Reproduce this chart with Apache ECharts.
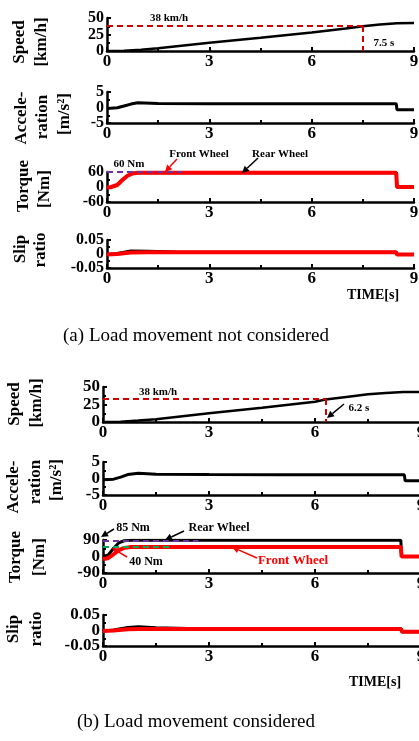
<!DOCTYPE html>
<html>
<head>
<meta charset="utf-8">
<script src="https://cdn.jsdelivr.net/npm/echarts@6/dist/echarts.min.js"></script>
<style>
  html, body { margin: 0; padding: 0; background: #fff; }
  #chart { width: 419px; height: 741px; }
</style>
</head>
<body>
<div id="chart"></div>
<script>
// ---- data ----
// (a) load movement not considered
const speedTimeA = [0, 0.5, 1, 1.5, 3, 4.5, 6, 7, 7.5, 8, 8.5, 9]
const speedA = [0, 0.5, 2, 4, 12.5, 20, 28, 34, 37.5, 40, 42, 42.5]
const accelTimeA = [0, 0.3, 0.5, 0.7, 0.9, 1.5, 3, 5, 7, 8.48, 8.5, 9]
const accelA = [-0.3, -0.1, 0.5, 1.1, 1.5, 1.3, 1.2, 1.2, 1.2, 1.2, -0.7, -0.7]
const torqueTimeA = [0, 0.1, 0.3, 0.45, 0.6, 0.75, 0.9, 1.2, 5, 8.48, 8.5, 9]
const torqueFrontA = [-2, -1, 8, 28, 45, 54, 57, 57, 57, 57, 0, 0]
const torqueRearA = [-2, -1, 8, 28, 45, 54, 57, 57, 57, 57, 0, 0]
const slipTimeA = [0, 0.3, 0.7, 1.2, 2, 3, 8.48, 8.5, 9]
const slipFrontA = [-0.002, 0, 0.005, 0.006, 0.006, 0.006, 0.006, -0.002, -0.002]
const slipRearA = [-0.002, 0.002, 0.011, 0.01, 0.007, 0.006, 0.006, -0.002, -0.002]
const refSpeedA = 38
const refTimeA = 7.5
const refTorqueA = 60
const refTorqueEndA = 2.2

// (b) load movement considered
const speedTimeB = [0, 0.5, 1, 1.5, 3, 4.5, 6, 6.3, 7, 7.5, 8, 8.5, 9]
const speedB = [0, 0.5, 2, 4, 12.5, 20.5, 29, 32, 36.5, 39.5, 41.5, 43, 43]
const accelTimeB = [0, 0.3, 0.5, 0.7, 1, 1.5, 3, 5, 7, 8.53, 8.55, 9]
const accelB = [-0.4, -0.2, 0.4, 1.2, 1.6, 1.3, 1.2, 1.1, 1.1, 1.1, -0.7, -0.7]
const torqueTimeB = [0, 0.15, 0.3, 0.45, 0.6, 0.8, 1.2, 5, 8.43, 8.45, 9]
const torqueFrontB = [-15, -8, 12, 35, 47, 52, 52, 52, 52, 0, 0]
const torqueRearB = [0, 8, 45, 75, 86, 88, 88, 88, 88, 0, 0]
const slipTimeB = [0, 0.3, 0.7, 1, 1.5, 3, 8.44, 8.46, 9]
const slipFrontB = [-0.002, 0, 0.004, 0.005, 0.005, 0.005, 0.005, -0.004, -0.004]
const slipRearB = [-0.002, 0.002, 0.01, 0.012, 0.009, 0.005, 0.005, -0.004, -0.004]
const refSpeedB = 33
const refTimeB = 6.3
const refTorqueRearB = 85
const refTorqueRearEndB = 2.7
const refTorqueFrontB = 55
const refTorqueFrontEndB = 1.95

const xTicks = { min: 0, max: 9, interval: 3 }

const FONT = "'Liberation Serif', 'DejaVu Serif', serif"

function zip(t, v) {
  return t.map((x, i) => [x, v[i]])
}

// fixed plot boxes; panel (b) runs past the right edge like the scan does
const grids = [
  { left: 107, width: 307, top: 18, height: 33 },
  { left: 107, width: 307, top: 92, height: 31 },
  { left: 107, width: 307, top: 172, height: 30 },
  { left: 107, width: 307, top: 240, height: 28 },
  { left: 103, width: 318, top: 387, height: 35 },
  { left: 103, width: 318, top: 462, height: 33 },
  { left: 103, width: 318, top: 540, height: 33 },
  { left: 103, width: 318, top: 615, height: 31 }
].map(g => Object.assign(g, { containLabel: false, outerBoundsMode: 'none' }))

const yDefs = [
  { min: 0, max: 50, interval: 25, size: 16 },
  { min: -5, max: 5, interval: 5, size: 16 },
  { min: -60, max: 60, interval: 60, size: 16 },
  { min: -0.05, max: 0.05, interval: 0.05, size: 16 },
  { min: 0, max: 50, interval: 25, size: 17 },
  { min: -5, max: 5, interval: 5, size: 17 },
  { min: -90, max: 90, interval: 90, size: 17 },
  { min: -0.05, max: 0.05, interval: 0.05, size: 17 }
]

const axisLine = { show: true, onZero: false, lineStyle: { color: '#000', width: 2.5 } }

const xAxes = grids.map((g, i) => ({
  type: 'value',
  gridIndex: i,
  min: xTicks.min,
  max: xTicks.max,
  interval: xTicks.interval,
  axisLine: axisLine,
  axisTick: { inside: true, length: 4, lineStyle: { color: '#000', width: 2 } },
  minorTick: { show: true, splitNumber: 2, length: 3, lineStyle: { color: '#000', width: 2 } },
  splitLine: { show: false },
  axisLabel: {
    color: '#000', fontFamily: FONT, fontWeight: 'bold', fontSize: 17, margin: 2,
    showMinLabel: true, showMaxLabel: true
  }
}))

const isZero = v => Math.abs(v) < 1e-9

// the tick labels sit closer than their font size and echarts drops the
// middle one, so the zero label goes on a second, bare axis in the same grid
function yLabel(d, keep) {
  return {
    color: '#000', fontFamily: FONT, fontWeight: 'bold', fontSize: d.size, margin: 3,
    showMinLabel: true, showMaxLabel: true,
    formatter: v => (keep(v) ? String(v) : '')
  }
}

const yMain = yDefs.map((d, i) => ({
  type: 'value',
  gridIndex: i,
  position: 'left',
  min: d.min,
  max: d.max,
  interval: d.interval,
  axisLine: axisLine,
  axisTick: { inside: true, length: 4, lineStyle: { color: '#000', width: 2 } },
  minorTick: { show: true, splitNumber: 2, length: 3, lineStyle: { color: '#000', width: 2 } },
  splitLine: { show: false },
  axisLabel: yLabel(d, v => !isZero(v) || d.min === 0)
}))

const yZero = yDefs.map((d, i) => ({
  type: 'value',
  gridIndex: i,
  position: 'left',
  min: d.min,
  max: d.max,
  interval: d.interval,
  axisLine: { show: false },
  axisTick: { show: false },
  splitLine: { show: false },
  axisLabel: yLabel(d, v => isZero(v) && d.min !== 0)
}))

function line(idx, t, v, color, width, extra) {
  return Object.assign({
    type: 'line',
    xAxisIndex: idx,
    yAxisIndex: idx,
    data: zip(t, v),
    showSymbol: false,
    symbol: 'none',
    lineStyle: { color: color, width: width },
    animation: false
  }, extra || {})
}

function refLines(segments, color) {
  return {
    silent: true,
    symbol: 'none',
    label: { show: false },
    lineStyle: { color: color, width: 2, type: [6, 4] },
    data: segments.map(s => [{ coord: s[0] }, { coord: s[1] }])
  }
}

const series = [
  // (a)
  line(0, speedTimeA, speedA, '#000', 2.5, {
    markLine: refLines([
      [[0, refSpeedA], [refTimeA, refSpeedA]],
      [[refTimeA, refSpeedA], [refTimeA, 0]]
    ], '#d00000')
  }),
  line(1, accelTimeA, accelA, '#000', 3),
  line(2, torqueTimeA, torqueRearA, '#000', 3),
  line(2, torqueTimeA, torqueFrontA, '#ff0000', 4, {
    markLine: refLines([[[0, refTorqueA], [refTorqueEndA, refTorqueA]]], '#7030a0')
  }),
  line(3, slipTimeA, slipRearA, '#000', 3),
  line(3, slipTimeA, slipFrontA, '#ff0000', 4),
  // (b)
  line(4, speedTimeB, speedB, '#000', 2.5, {
    markLine: refLines([
      [[0, refSpeedB], [refTimeB, refSpeedB]],
      [[refTimeB, refSpeedB], [refTimeB, 0]]
    ], '#d00000')
  }),
  line(5, accelTimeB, accelB, '#000', 3),
  line(6, torqueTimeB, torqueRearB, '#000', 3, {
    markLine: refLines([[[0, refTorqueRearB], [refTorqueRearEndB, refTorqueRearB]]], '#7030a0')
  }),
  line(6, torqueTimeB, torqueFrontB, '#ff0000', 4, {
    markLine: refLines([[[0, refTorqueFrontB], [refTorqueFrontEndB, refTorqueFrontB]]], '#00b050')
  }),
  line(7, slipTimeB, slipRearB, '#000', 3),
  line(7, slipTimeB, slipFrontB, '#ff0000', 4)
]

// annotation helpers (pixel space)
function label(x, y, text, size, color, weight, rotate) {
  return {
    type: 'text',
    x: x,
    y: y,
    z: 20,
    rotation: rotate || 0,
    style: {
      text: text,
      fill: color || '#000',
      font: (weight || 'bold') + ' ' + size + 'px ' + FONT,
      align: 'center',
      verticalAlign: 'middle'
    }
  }
}

// vertical axis titles, one column per line
function vname(x, y, text) {
  return label(x, y, text, 17, '#000', 'bold', Math.PI / 2)
}

function arrow(x1, y1, x2, y2, color) {
  const a = Math.atan2(y2 - y1, x2 - x1)
  const len = 7, half = 3.5
  const bx = x2 - len * Math.cos(a), by = y2 - len * Math.sin(a)
  const px = -Math.sin(a) * half, py = Math.cos(a) * half
  return [
    { type: 'line', z: 20, shape: { x1: x1, y1: y1, x2: bx, y2: by }, style: { stroke: color, lineWidth: 1.5 } },
    { type: 'polygon', z: 20, shape: { points: [[x2, y2], [bx + px, by + py], [bx - px, by - py]] }, style: { fill: color } }
  ]
}

const graphic = [
  // axis titles (a)
  vname(20, 42, 'Speed'), vname(42, 42, '[km/h]'),
  vname(22, 118, 'Accele-'), vname(43, 117, 'ration'), vname(65, 114, '[m/s²]'),
  vname(24, 186, 'Torque'), vname(45, 189, '[Nm]'),
  vname(21, 249, 'Slip'), vname(41, 250, 'ratio'),
  // axis titles (b)
  vname(15, 404, 'Speed'), vname(37, 403, '[km/h]'),
  vname(14, 487, 'Accele-'), vname(36, 482, 'ration'), vname(57, 480, '[m/s²]'),
  vname(16, 557, 'Torque'), vname(40, 557, '[Nm]'),
  vname(14, 629, 'Slip'), vname(37, 629, 'ratio'),

  label(169, 18, '38 km/h', 11),
  label(384, 43, '7.5 s', 11),
  label(129, 164, '60 Nm', 11),
  label(199, 154, 'Front Wheel', 11),
  label(280, 154, 'Rear Wheel', 11),
  ...arrow(177, 159, 165, 172, '#ff0000'),
  ...arrow(258, 158, 242, 173, '#000'),
  label(373, 295, 'TIME[s]', 14),
  label(196, 336, '(a) Load movement not considered', 19, '#000', 'normal'),

  label(158, 392, '38 km/h', 11),
  label(359, 408, '6.2 s', 11),
  ...arrow(344, 404, 327, 418, '#000'),
  label(133, 528, '85 Nm', 12),
  label(219, 528, 'Rear Wheel', 12),
  ...arrow(114, 529, 101, 537, '#000'),
  ...arrow(184, 531, 165, 540, '#000'),
  label(146, 562, '40 Nm', 12),
  ...arrow(127, 557, 112, 548, '#ff0000'),
  label(293, 561, 'Front Wheel', 13, '#ff0000'),
  ...arrow(257, 558, 232, 547, '#ff0000'),
  label(375, 682, 'TIME[s]', 14),
  label(196, 722, '(b) Load movement considered', 19, '#000', 'normal')
]

const chart = echarts.init(document.getElementById('chart'))
chart.setOption({
  backgroundColor: '#fff',
  animation: false,
  grid: grids,
  xAxis: xAxes,
  yAxis: yMain.concat(yZero),
  series: series,
  graphic: graphic
})
</script>
</body>
</html>
